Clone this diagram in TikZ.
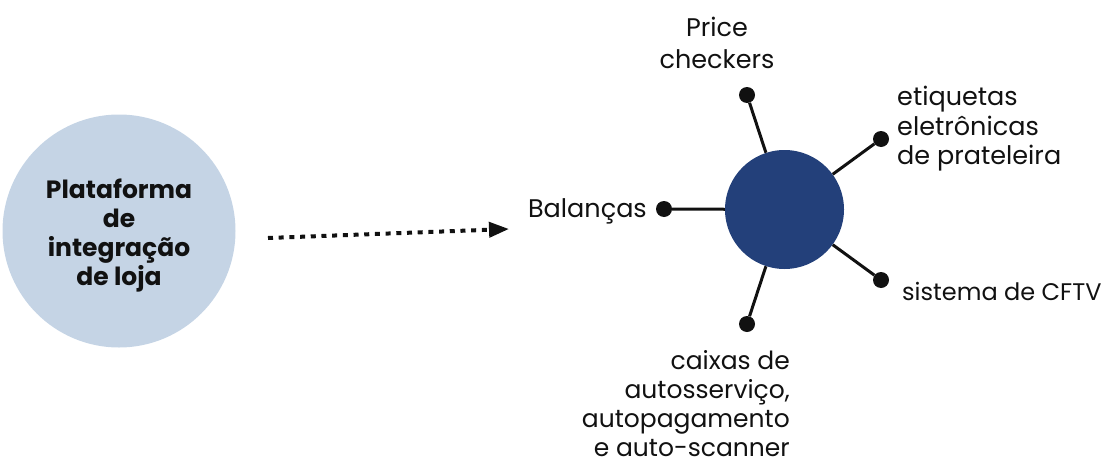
\documentclass[tikz,border=0pt]{standalone}
\usepackage{fontspec}
\setmainfont{Poppins}
\usetikzlibrary{arrows.meta,positioning}
\definecolor{platfill}{HTML}{C5D4E5}
\definecolor{hubfill}{HTML}{23407A}
\definecolor{ink}{HTML}{111111}
\begin{document}
\begin{tikzpicture}
		[x=1pt,y=-1pt,
			font=\fontsize{25.5}{29.5}\selectfont,text=ink,
			platnode/.style={circle,fill=platfill,minimum size=233pt,inner sep=0pt},
			plattext/.style={inner sep=0pt,align=center,font=\fontsize{25}{29}\selectfont\bfseries},
			hubnode/.style={circle,fill=hubfill,minimum size=119pt,inner sep=0pt},
			dotnode/.style={circle,fill=ink,minimum size=16pt,inner sep=0pt},
			spoke/.style={draw=ink,line width=3pt},
			lbl/.style={inner sep=0pt}]
	\useasboundingbox (0,0) rectangle (1104,466);
	\node[platnode] (plat) at (119,231) {};
	\node[plattext] (plattxt) at ([yshift=-5pt]plat.center) {Plataforma\\de\\integração\\de loja};
	\coordinate (arrS) at (268,238);
	\coordinate (arrE) at (509,229);
	\draw[ink,line width=4pt,dash pattern=on 5pt off 5.7pt,-{Triangle[length=20pt,width=15pt]}] (arrS) -- (arrE);
	\node[hubnode] (hub) at (784.5,209.5) {};
	\foreach \name/\pos in {pc/{747,95},etq/{881,139},bal/{664,209},cftv/{881,280},cx/{747,324}}
	{
		\node[dotnode] (\name) at (\pos) {};
		\draw[spoke] (hub) -- (\name);
	}
	\node[lbl,anchor=north,align=center,font=\fontsize{25.5}{32}\selectfont] (pclbl) at (717,17) {Price\\checkers};
	\node[lbl,anchor=north west,align=left] (etqlbl) at (897,86) {etiquetas\\eletrônicas\\de prateleira};
	\node[lbl,anchor=base east] (ballbl) at (647,217) {Balanças};
	\node[lbl,anchor=base west,font=\fontsize{24}{29.5}\selectfont] (cftvlbl) at (902,300) {sistema de CFTV};
	\node[lbl,anchor=north east,align=right,font=\fontsize{25}{29}\selectfont] (cxlbl) at (790,350) {caixas de\\autosserviço,\\autopagamento\\e auto-scanner};
\end{tikzpicture}
\end{document}
